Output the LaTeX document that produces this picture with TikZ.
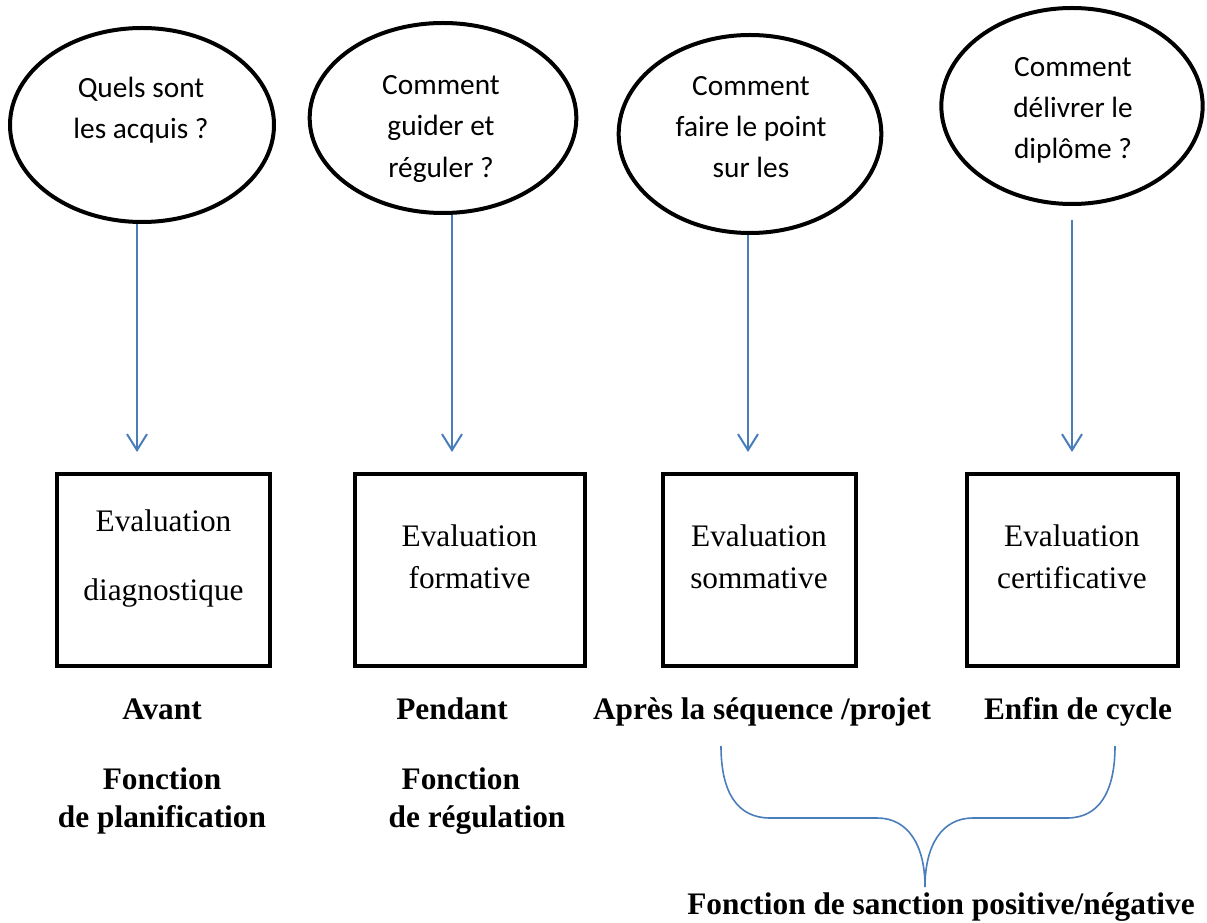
\documentclass[tikz,border=0pt]{standalone}
\usepackage{fontspec}
\setmainfont{Liberation Serif}
\newfontfamily\calfont{Carlito}
\usetikzlibrary{shapes.geometric,arrows.meta}
\definecolor{arrowblue}{RGB}{74,126,187}
\begin{document}
\begin{tikzpicture}[x=0.75pt,y=-0.75pt,
  qell/.style={ellipse, draw=black, line width=3pt, inner sep=0pt},
  qtext/.style={font=\calfont\fontsize{22}{31}\selectfont, align=center, inner sep=0pt},
  evbox/.style={rectangle, draw=black, line width=3.4pt, inner sep=0pt, minimum height=144pt},
  evtext/.style={font=\fontsize{23.5}{31.5}\selectfont, align=center, inner sep=0pt},
  lbl/.style={font=\bfseries\fontsize{23.5}{28.5}\selectfont, align=center, inner sep=0pt},
  conn/.style={draw=arrowblue, line width=1.5pt, -{Straight Barb[length=12pt,width=15pt,line width=1.5pt]}},
  bracestyle/.style={draw=arrowblue, line width=1.2pt}]
\useasboundingbox (0,0) rectangle (1207,923);

% question ellipses
\node[qell, minimum width=198pt, minimum height=145.5pt] (e1) at (142,125) {};
\node[qell, minimum width=200pt, minimum height=142.5pt] (e2) at (443,118) {};
\node[qell, minimum width=197pt, minimum height=148.5pt] (e3) at (750,134) {};
\node[qell, minimum width=196pt, minimum height=147pt] (e4) at (1072,106) {};

\node[qtext] (q1) at (141,110) {Quels sont\\les acquis ?};
\node[qtext] (q2) at (441,129) {Comment\\guider et\\réguler ?};
\node[qtext] (q3) at (751,127) {Comment\\faire le point\\sur les};
\node[qtext] (q4) at (1073,110.5) {Comment\\délivrer le\\diplôme ?};

% evaluation boxes
\node[evbox, minimum width=159.75pt] (b1) at (163.5,570) {};
\node[evbox, minimum width=172.5pt] (b2) at (470,570) {};
\node[evbox, minimum width=144.75pt] (b3) at (759.5,570) {};
\node[evbox, minimum width=158.25pt] (b4) at (1072.5,570) {};

\node[evtext] (t1) at (163.5,558.5) {Evaluation\\[20pt]diagnostique};
\node[evtext] (t2) at (469.5,557) {Evaluation\\formative};
\node[evtext] (t3) at (759,557) {Evaluation\\sommative};
\node[evtext] (t4) at (1072,557) {Evaluation\\certificative};

% arrows
\coordinate (a1) at (137,452);
\coordinate (a2) at (452,452);
\coordinate (a3) at (748,452);
\coordinate (a4) at (1072,452);
\coordinate (s4) at (1072,220);
\draw[conn] (e1.south -| a1) -- (a1);
\draw[conn] (e2.south -| a2) -- (a2);
\draw[conn] (e3.south -| a3) -- (a3);
\draw[conn] (s4) -- (a4);

% labels
\node[lbl, anchor=base] (l1) at (162,719.5) {Avant};
\node[lbl, anchor=base] (l2) at (452,719.5) {Pendant};
\node[lbl, anchor=base] (l3) at (762,719.5) {Après la séquence /projet};
\node[lbl, anchor=base] (l4) at (1078,719.5) {Enfin de cycle};
\node[lbl] (f1) at (162,801) {Fonction\\de planification};
\node[lbl, align=left] (f2) at (477,801) {\hspace*{9.75pt}Fonction\\de régulation};
\node[lbl, anchor=base] (f3) at (941,914) {Fonction de sanction positive/négative};

% brace
\coordinate (bl) at (721,746);
\coordinate (br) at (1115,746);
\coordinate (bm) at (925,887);
\draw[bracestyle] (bl) .. controls (721,792) and (737,818) .. (770,818)
  -- (877,818) .. controls (908,818) and (925,845) .. (bm)
  .. controls (925,845) and (942,818) .. (973,818)
  -- (1067,818) .. controls (1099,818) and (1115,792) .. (br);
\end{tikzpicture}
\end{document}
